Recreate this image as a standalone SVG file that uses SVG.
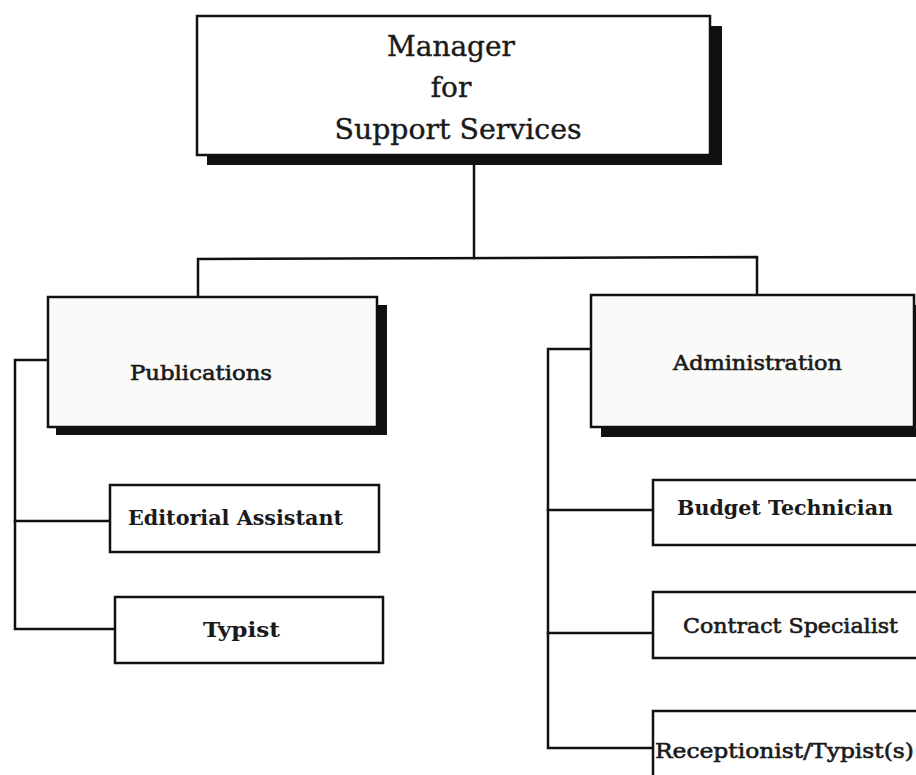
<svg xmlns="http://www.w3.org/2000/svg" width="916" height="775" viewBox="0 0 916 775">
  <style>
    .box { fill: #ffffff; stroke: #111111; stroke-width: 2.5; }
    .shadow { fill: #111111; stroke: none; }
    .line { fill: none; stroke: #111111; stroke-width: 2.5; stroke-linecap: square; }
    .title { font-family: "DejaVu Serif", "Liberation Serif", serif; font-size: 28px; fill: #1a1a1a; text-anchor: middle; stroke: #1a1a1a; stroke-width: 0.4; }
    .lbl { font-family: "DejaVu Serif", "Liberation Serif", serif; font-size: 20px; fill: #1a1a1a; }
    .b { font-weight: bold; }
    .m { stroke: #1a1a1a; stroke-width: 0.6; }
  </style>
  <rect x="0" y="0" width="916" height="775" fill="#ffffff"/>

  <g id="connectors">
    <polyline class="line" points="474,157 474,258"/>
    <polyline class="line" points="198,297 198,259 757,257 757,294"/>
    <polyline class="line" points="48,360 15,360 15,629 115,629"/>
    <polyline class="line" points="15,521 110,521"/>
    <polyline class="line" points="591,349 548,349 548,748 653,748"/>
    <polyline class="line" points="548,510 653,510"/>
    <polyline class="line" points="548,633 653,633"/>
  </g>

  <g id="manager">
    <rect class="shadow" x="207" y="26" width="515" height="139"/>
    <rect class="box" x="197" y="16" width="513" height="139"/>
    <text class="title" x="451" y="56">Manager</text>
    <text class="title" x="451" y="97">for</text>
    <text class="title" x="458" y="139" textLength="247" lengthAdjust="spacingAndGlyphs">Support Services</text>
  </g>

  <g id="publications">
    <rect class="shadow" x="56" y="305" width="331" height="130"/>
    <rect class="box" x="48" y="297" width="329" height="130" style="fill:#fafaf8"/>
    <text class="lbl m" x="130" y="380" textLength="142" lengthAdjust="spacingAndGlyphs">Publications</text>
  </g>

  <g id="administration">
    <rect class="shadow" x="601" y="305" width="330" height="132"/>
    <rect class="box" x="591" y="295" width="323" height="132" style="fill:#fafaf8"/>
    <text class="lbl m" x="673" y="370" textLength="169" lengthAdjust="spacingAndGlyphs">Administration</text>
  </g>

  <g id="editorial-assistant">
    <rect class="box" x="110" y="485" width="269" height="67"/>
    <text class="lbl b" x="128" y="525" textLength="215" lengthAdjust="spacingAndGlyphs">Editorial Assistant</text>
  </g>

  <g id="typist">
    <rect class="box" x="115" y="597" width="268" height="66"/>
    <text class="lbl b" x="203" y="637" textLength="77" lengthAdjust="spacingAndGlyphs">Typist</text>
  </g>

  <g id="budget-technician">
    <rect class="box" x="653" y="480" width="275" height="65"/>
    <text class="lbl b" x="677" y="515" textLength="216" lengthAdjust="spacingAndGlyphs">Budget Technician</text>
  </g>

  <g id="contract-specialist">
    <rect class="box" x="653" y="592" width="275" height="66"/>
    <text class="lbl m" x="683" y="633" textLength="215" lengthAdjust="spacingAndGlyphs">Contract Specialist</text>
  </g>

  <g id="receptionist-typist">
    <rect class="box" x="653" y="711" width="275" height="80"/>
    <text class="lbl m" x="655" y="758" textLength="259" lengthAdjust="spacingAndGlyphs">Receptionist/Typist(s)</text>
  </g>
</svg>
